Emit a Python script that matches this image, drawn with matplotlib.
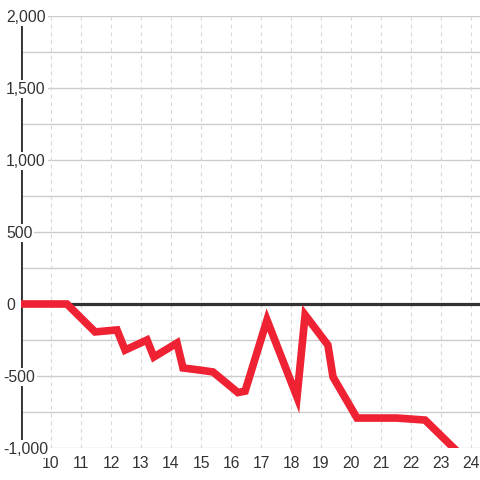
import numpy as np
import matplotlib
matplotlib.use('Agg')
import matplotlib.pyplot as plt

plt.rcParams['font.family'] = ['Liberation Sans', 'DejaVu Sans']

# 시간(x)과 값(y)
hours = [9.0, 10.53, 11.47, 12.2, 12.47, 13.2, 13.43, 14.2, 14.4, 15.0, 15.4,
         16.23, 16.47, 17.2, 18.2, 18.47, 19.23, 19.4, 20.2, 21.53, 22.47, 23.47]
values = [0, 0, -194, -180, -320, -250, -368, -271, -444, -460, -472,
          -615, -605, -111, -646, -76, -285, -507, -792, -792, -806, -1010]

x_ticks = list(range(10, 25))
y_ticks = [-1000, -500, 0, 500, 1000, 1500, 2000]
y_minor = [-750, -250, 250, 750, 1250, 1750]

red = '#ee2233'
dark = '#333333'
grid = '#cccccc'

fig = plt.figure(figsize=(4.8, 4.8), dpi=100)
ax = fig.add_axes([21/480, 32/480, 459/480, 432/480])
ax.set_xlim(9, 24.3)
ax.set_ylim(-1000, 2000)

for s in ax.spines.values():
    s.set_visible(False)

# 격자
for y in y_ticks + y_minor:
    ax.axhline(y, color=grid, lw=1, zorder=1)
for x in x_ticks:
    ax.axvline(x, color='#d9d9d9', lw=0.8, ls=(0, (3.5, 3.5)), zorder=1)

ax.axhline(0, color=dark, lw=2.3, zorder=2)
ax.axvline(9, color=dark, lw=2.8, zorder=2)

# 값 라벨은 축선 위에 흰 배경으로
for y in y_ticks:
    off = -18 if y < 0 else -15
    ax.annotate(f'{y:,}', xy=(0, y), xycoords=('axes fraction', 'data'),
                xytext=(off, -1), textcoords='offset pixels',
                ha='left', va='center', fontsize=11.3, color=dark,
                zorder=5, annotation_clip=False,
                bbox=dict(boxstyle='square,pad=0.12', facecolor='white',
                          edgecolor='none'))

ax.plot(hours, values, color=red, lw=5.5, solid_joinstyle='miter',
        solid_capstyle='projecting', zorder=6)

ax.set_xticks(x_ticks)
ax.set_xticklabels([str(x) for x in x_ticks])
ax.tick_params(axis='x', length=0, pad=6, labelsize=11.3, labelcolor=dark)
ax.set_yticks([])

fig.savefig('out.png', dpi=100)
